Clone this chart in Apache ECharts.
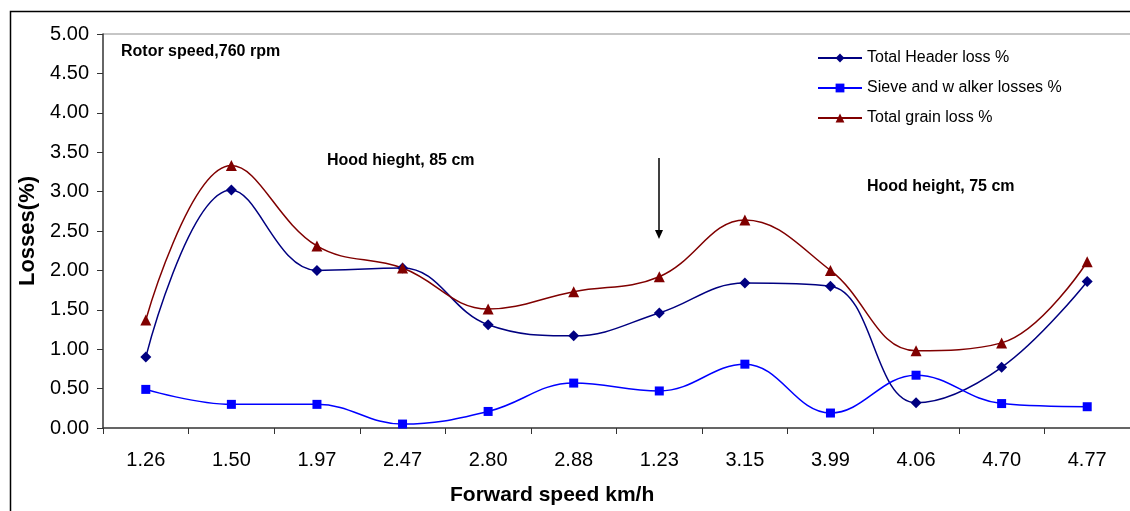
<!DOCTYPE html>
<html>
<head>
<meta charset="utf-8">
<script src="https://cdn.jsdelivr.net/npm/echarts@6/dist/echarts.min.js"></script>
<style>
  html, body { margin: 0; padding: 0; background: #fff; }
  #chart { width: 1130px; height: 511px; }
</style>
</head>
<body>
<div id="chart"></div>
<script>
// Forward speed categories (km/h) as printed on the axis
const speeds = ['1.26', '1.50', '1.97', '2.47', '2.80', '2.88', '1.23', '3.15', '3.99', '4.06', '4.70', '4.77'];

// Loss measurements (%)
const headerLoss = [0.90, 3.02, 2.00, 2.03, 1.31, 1.17, 1.46, 1.84, 1.80, 0.32, 0.77, 1.86];
const sieveWalkerLoss = [0.49, 0.30, 0.30, 0.05, 0.21, 0.57, 0.47, 0.81, 0.19, 0.67, 0.31, 0.27];
const totalGrainLoss = [1.37, 3.33, 2.31, 2.03, 1.51, 1.73, 1.92, 2.64, 2.00, 0.98, 1.08, 2.11];

const seriesNames = ['Total Header loss %', 'Sieve and w alker losses %', 'Total grain loss %'];

const chart = echarts.init(document.getElementById('chart'), null, { renderer: 'canvas' });

const font = 'Liberation Sans, Arial, sans-serif';

function lineSeries(name, data, color, symbol, size) {
  return {
    name: name,
    type: 'line',
    data: data,
    smooth: 0.4,
    symbol: symbol,
    symbolSize: size,
    showAllSymbol: true,
    lineStyle: { color: color, width: 1.5 },
    itemStyle: { color: color },
    emphasis: { disabled: true },
    z: 3
  };
}

chart.setOption({
  animation: false,
  backgroundColor: '#fff',
  textStyle: { fontFamily: font },
  grid: {
    left: 103, right: 0, top: 34, bottom: 83,
    show: false,
    containLabel: false
  },
  legend: {
    orient: 'vertical',
    left: 812, top: 44,
    itemWidth: 44, itemHeight: 11, itemGap: 12,
    data: seriesNames,
    textStyle: { fontFamily: font, fontSize: 16, color: '#000', lineHeight: 18 }
  },
  xAxis: {
    type: 'category',
    data: speeds,
    boundaryGap: true,
    axisLine: { lineStyle: { color: '#333', width: 1.5 } },
    axisTick: { show: true, length: 6, inside: false, alignWithLabel: false, lineStyle: { color: '#333' } },
    axisLabel: { color: '#000', fontSize: 20, fontFamily: font, margin: 22, interval: 0 },
    splitLine: { show: false }
  },
  yAxis: {
    type: 'value',
    min: 0, max: 5, interval: 0.5,
    name: 'Losses(%)',
    nameLocation: 'middle',
    nameGap: 59,
    nameRotate: 90,
    nameTextStyle: { fontFamily: font, fontSize: 22, fontWeight: 'bold', color: '#000' },
    axisLine: { show: true, lineStyle: { color: '#333', width: 1.5 } },
    axisTick: { show: true, length: 6, lineStyle: { color: '#333' } },
    axisLabel: { color: '#000', fontSize: 20, fontFamily: font, margin: 14, formatter: v => v.toFixed(2) },
    splitLine: { show: false }
  },
  series: [
    lineSeries(seriesNames[0], headerLoss, '#000080', 'diamond', 11),
    lineSeries(seriesNames[1], sieveWalkerLoss, '#0000ff', 'rect', 9),
    lineSeries(seriesNames[2], totalGrainLoss, '#800000', 'triangle', 11)
  ],
  graphic: [
    {
      type: 'rect', silent: true, z: 0,
      shape: { x: 10.5, y: 11.5, width: 1300, height: 700 },
      style: { fill: 'none', stroke: '#000', lineWidth: 1.5 }
    },
    {
      // top edge of the plot frame
      type: 'line', silent: true, z: 0,
      shape: { x1: 103, y1: 34, x2: 1140, y2: 34 },
      style: { stroke: '#8c8c8c', lineWidth: 1 }
    },
    {
      type: 'text', left: 450, top: 485,
      style: { text: 'Forward speed km/h', font: 'bold 21px ' + font, fill: '#000' }
    },
    {
      type: 'text', left: 121, top: 44,
      style: { text: 'Rotor speed,760 rpm', font: 'bold 16px ' + font, fill: '#000' }
    },
    {
      type: 'text', left: 327, top: 153,
      style: { text: 'Hood hieght, 85 cm', font: 'bold 16px ' + font, fill: '#000' }
    },
    {
      type: 'text', left: 867, top: 179,
      style: { text: 'Hood height, 75 cm', font: 'bold 16px ' + font, fill: '#000' }
    },
    {
      type: 'line', silent: true,
      shape: { x1: 659, y1: 158, x2: 659, y2: 232 },
      style: { stroke: '#000', lineWidth: 1.5 }
    },
    {
      type: 'polygon', silent: true,
      shape: { points: [[655, 230], [663, 230], [659, 239]] },
      style: { fill: '#000' }
    }
  ]
});
</script>
</body>
</html>
